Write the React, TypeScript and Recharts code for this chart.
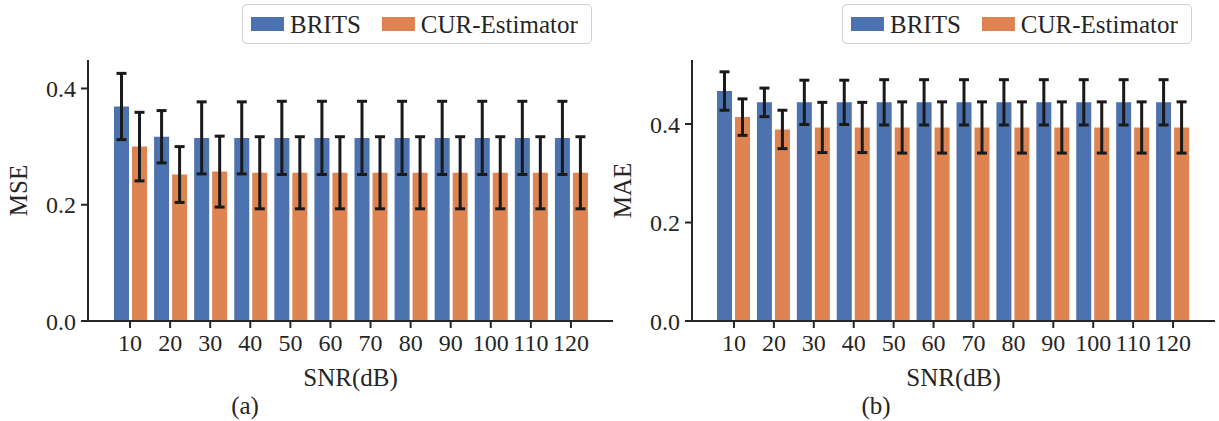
import React from "react";
import { BarChart, Bar, XAxis, YAxis, ErrorBar, Legend, Label } from "recharts";

const snrLabels = ["10", "20", "30", "40", "50", "60", "70", "80", "90", "100", "110", "120"];
const seriesNames = ["BRITS", "CUR-Estimator"];
const yTicks = [0, 0.2, 0.4];

// (a) MSE
const mseBrits = [0.369, 0.317, 0.315, 0.315, 0.315, 0.315, 0.315, 0.315, 0.315, 0.315, 0.315, 0.315];
const mseBritsErr = [0.057, 0.045, 0.062, 0.062, 0.063, 0.063, 0.063, 0.063, 0.063, 0.063, 0.063, 0.063];
const mseCur = [0.3, 0.252, 0.257, 0.255, 0.255, 0.255, 0.255, 0.255, 0.255, 0.255, 0.255, 0.255];
const mseCurErr = [0.059, 0.048, 0.061, 0.062, 0.062, 0.062, 0.062, 0.062, 0.062, 0.062, 0.062, 0.062];

// (b) MAE
const maeBrits = [0.467, 0.444, 0.444, 0.444, 0.444, 0.444, 0.444, 0.444, 0.444, 0.444, 0.444, 0.444];
const maeBritsErr = [0.039, 0.029, 0.045, 0.045, 0.046, 0.046, 0.046, 0.046, 0.046, 0.046, 0.046, 0.046];
const maeCur = [0.414, 0.389, 0.393, 0.393, 0.393, 0.393, 0.393, 0.393, 0.393, 0.393, 0.393, 0.393];
const maeCurErr = [0.037, 0.039, 0.051, 0.051, 0.052, 0.052, 0.052, 0.052, 0.052, 0.052, 0.052, 0.052];

const FONT = '"Liberation Serif", "Times New Roman", Times, serif';
const INK = "#262626";
const BLUE = "#4C72B0";
const ORANGE = "#DD8452";
const ERR = "#1a1a1a";

const PLOT_TOP = 60;
const AXIS_W = 88;

function LegendBox() {
  const colors = [BLUE, ORANGE];
  return (
    <div
      style={{
        boxSizing: "border-box",
        width: 350,
        height: 40,
        border: "1.5px solid #cfcfcf",
        borderRadius: 5,
        background: "#fff",
        display: "flex",
        alignItems: "center",
        paddingLeft: 8,
        fontFamily: FONT,
        fontSize: 25,
        color: INK,
      }}
    >
      {seriesNames.map((name, i) => (
        <div key={name} style={{ display: "flex", alignItems: "center", marginLeft: i === 0 ? 0 : 21 }}>
          <span style={{ display: "inline-block", width: 33, height: 14, background: colors[i], marginRight: 6 }} />
          <span style={{ lineHeight: 1 }}>{name}</span>
        </div>
      ))}
    </div>
  );
}

interface PanelProps {
  left: number;
  width: number;
  marginRight: number;
  brits: number[];
  britsErr: number[];
  cur: number[];
  curErr: number[];
  yMax: number;
  yLabel: string;
  caption: string;
  captionX: number;
  legendLeft: number;
}

function Panel({ left, width, marginRight, brits, britsErr, cur, curErr, yMax, yLabel, caption, captionX, legendLeft }: PanelProps) {
  const data = snrLabels.map((snr, i) => ({
    snr,
    brits: brits[i],
    britsErr: britsErr[i],
    cur: cur[i],
    curErr: curErr[i],
  }));
  const plotRight = width - marginRight;
  const tickStyle = { fontSize: 24, fill: INK, fontFamily: FONT };

  return (
    <div style={{ position: "absolute", left, top: 0, width, height: 421 }}>
      <BarChart
        width={width}
        height={421}
        data={data}
        margin={{ top: PLOT_TOP, right: marginRight, bottom: 40, left: 0 }}
        barSize={15}
        barGap={3}
      >
        <XAxis
          dataKey="snr"
          height={60}
          interval={0}
          padding={{ left: 22, right: 22 }}
          tickSize={7}
          tickMargin={6}
          tick={tickStyle}
          axisLine={{ stroke: INK, strokeWidth: 2 }}
          tickLine={{ stroke: INK, strokeWidth: 2 }}
        >
          <Label
            content={() => (
              <text x={(AXIS_W + plotRight) / 2} y={386} textAnchor="middle" fontFamily={FONT} fontSize={25} fill={INK}>
                SNR(dB)
              </text>
            )}
          />
        </XAxis>
        <YAxis
          width={AXIS_W}
          domain={[0, yMax]}
          allowDataOverflow
          ticks={yTicks}
          tickFormatter={(v: number) => v.toFixed(1)}
          tickSize={7}
          tickMargin={5}
          tick={tickStyle}
          axisLine={{ stroke: INK, strokeWidth: 2 }}
          tickLine={{ stroke: INK, strokeWidth: 2 }}
        >
          <Label
            content={() => (
              <text
                transform={`translate(27, ${PLOT_TOP + (321 - PLOT_TOP) / 2}) rotate(-90)`}
                textAnchor="middle"
                fontFamily={FONT}
                fontSize={25}
                fill={INK}
              >
                {yLabel}
              </text>
            )}
          />
        </YAxis>
        <Legend
          layout="horizontal"
          verticalAlign="middle"
          align="center"
          wrapperStyle={{ position: "absolute", left: legendLeft, top: 4, width: 350, height: 40 }}
          content={() => <LegendBox />}
        />
        <Bar dataKey="brits" name={seriesNames[0]} fill={BLUE} isAnimationActive={false}>
          <ErrorBar dataKey="britsErr" direction="y" width={5} strokeWidth={3} stroke={ERR} isAnimationActive={false} />
        </Bar>
        <Bar dataKey="cur" name={seriesNames[1]} fill={ORANGE} isAnimationActive={false}>
          <ErrorBar dataKey="curErr" direction="y" width={5} strokeWidth={3} stroke={ERR} isAnimationActive={false} />
        </Bar>
      </BarChart>
      <div
        style={{
          position: "absolute",
          left: captionX - 40,
          width: 80,
          top: 392,
          textAlign: "center",
          fontFamily: FONT,
          fontSize: 25,
          lineHeight: "28px",
          color: INK,
        }}
      >
        {caption}
      </div>
    </div>
  );
}

export default function App() {
  return (
    <div style={{ position: "absolute", left: 0, top: 0, width: 1219, height: 421, background: "#fff", overflow: "hidden" }}>
      <Panel
        left={0}
        width={620}
        marginRight={7}
        brits={mseBrits}
        britsErr={mseBritsErr}
        cur={mseCur}
        curErr={mseCurErr}
        yMax={0.449}
        yLabel="MSE"
        caption="(a)"
        captionX={245}
        legendLeft={242}
      />
      <Panel
        left={604}
        width={615}
        marginRight={4}
        brits={maeBrits}
        britsErr={maeBritsErr}
        cur={maeCur}
        curErr={maeCurErr}
        yMax={0.53}
        yLabel="MAE"
        caption="(b)"
        captionX={272}
        legendLeft={238}
      />
    </div>
  );
}
